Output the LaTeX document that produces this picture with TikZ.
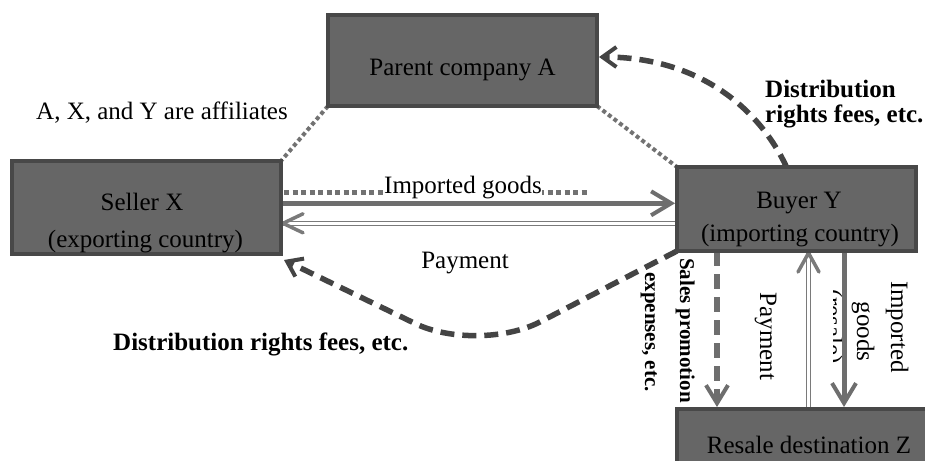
\documentclass[tikz,border=0pt]{standalone}
\usepackage{fontspec}
\setmainfont{Liberation Serif}
\usetikzlibrary{arrows.meta,calc}
\definecolor{boxfill}{HTML}{666666}
\definecolor{boxdraw}{HTML}{484848}
\definecolor{arrgray}{HTML}{6E6E6E}
\definecolor{paygray}{HTML}{7A7A7A}
\definecolor{dotgray}{HTML}{727272}
\definecolor{darkdash}{HTML}{444444}
\begin{document}
\begin{tikzpicture}[x=1pt,y=-1pt,
  box/.style={rectangle, draw=boxdraw, fill=boxfill, line width=4pt, inner sep=0pt, outer sep=0pt},
  lbl/.style={font=\fontsize{25}{30}\selectfont, inner sep=0pt, text=black},
  blbl/.style={font=\fontsize{25}{30}\selectfont\bfseries, inner sep=0pt, text=black},
  sblbl/.style={font=\fontsize{21}{25}\selectfont\bfseries, inner sep=0pt, text=black},
  dotline/.style={draw=dotgray, line width=4pt, dash pattern=on 4pt off 3pt},
  hdotline/.style={draw=dotgray, line width=5pt, dash pattern=on 5pt off 3.5pt},
  bigdash/.style={draw=darkdash, line width=5.5pt, dash pattern=on 14pt off 8pt,
    -{Straight Barb[length=14pt, width=20pt, line width=4pt]}},
  solidarrow/.style={draw=arrgray, line width=5pt,
    -{Straight Barb[length=20pt, width=24pt, line width=4pt]}},
  graydash/.style={draw=arrgray, line width=5.5pt, dash pattern=on 15pt off 8pt,
    -{Straight Barb[length=18pt, width=22pt, line width=4pt]}},
  payline/.style={draw=paygray, line width=1.5pt, double=white, double distance=2.5pt},
  paytip/.style={draw=paygray, line width=3.5pt, line cap=round, line join=miter}
]
\useasboundingbox (0,0) rectangle (925,460);
\fill[white] (0,0) rectangle (925,460);
\clip (0,0) rectangle (925,460);

% boxes (defined first for anchors, drawn on top later)
\path node[box, minimum width=269pt, minimum height=91pt] (parentA) at (462.5,60.5) {};
\path node[box, minimum width=269pt, minimum height=93pt] (sellerX) at (146.5,207.5) {};
\path node[box, minimum width=239pt, minimum height=84pt] (buyerY) at (796.5,209) {};
\path node[box, minimum width=263pt, minimum height=71pt] (resaleZ) at (808.5,444.5) {};

% affiliate dotted lines
\draw[dotline] (parentA.south west) -- (sellerX.north east);
\draw[dotline] (parentA.south east) -- (buyerY.north west);

% horizontal dotted line with label
\coordinate (dotS) at ($(sellerX.east)+(3,-15.5)$);
\coordinate (dotE) at (588,192);
\draw[hdotline] (dotS) -- (dotE);
\node[lbl, anchor=base, fill=white] (tIG) at (463,193) {Imported goods};

% imported goods arrow X -> Y
\coordinate (ig1) at ($(sellerX.east)+(0,-4.2)$);
\draw[solidarrow] (ig1) -- ($(buyerY.west |- ig1)+(-2,0)$);

% payment Y -> X (double line)
\coordinate (pm1) at ($(buyerY.west)+(0,14.3)$);
\coordinate (pm2) at ($(sellerX.east |- pm1)+(2,0)$);
\draw[payline] (pm1) -- (pm2);
\draw[paytip] ($(pm2)+(20,-9.5)$) -- (pm2) -- ($(pm2)+(20,9.5)$);
\node[lbl, anchor=base] (tPay) at (465,268) {Payment};

% distribution rights fees Y -> A
\draw[bigdash] ($(buyerY.north)+(-10,0)$) .. controls (760,110) and (700,57) .. ($(parentA.east)+(2,-3.5)$);
% distribution rights fees Y -> X
\draw[bigdash, rounded corners=70pt] (buyerY.south west) -- (478,354) -- ($(sellerX.south east)+(3,6)$);

% vertical labels
\begin{scope}
\clip (833,280) rectangle (860,375);
\node[lbl, rotate=-90, anchor=base] (tResV) at (825,326.5) {(resale)};
\end{scope}
\node[lbl, rotate=-90, anchor=base] (tPayV) at (760,336.5) {Payment};
\node[lbl, rotate=-90, anchor=base] (tImpV) at (891,327) {Imported};
\node[lbl, rotate=-90, anchor=base] (tGoodsV) at (857,331.5) {goods};
\node[sblbl, rotate=-90, anchor=base] (tSales) at (680,330.5) {Sales promotion};
\node[sblbl, rotate=-90, anchor=base] (tExp) at (645,332) {expenses, etc.};

% vertical connectors Y <-> Z
\draw[graydash] ($(buyerY.south)+(-79.5,0)$) -- ($(resaleZ.north)+(-91.5,-2)$);
\draw[payline] (resaleZ.north) -- (resaleZ.north |- buyerY.south);
\coordinate (pvt) at ($(resaleZ.north |- buyerY.south)+(0,2)$);
\draw[paytip] ($(pvt)+(-10.5,19)$) -- (pvt) -- ($(pvt)+(10.5,19)$);
\draw[solidarrow] ($(buyerY.south)+(47.5,0)$) -- ($(resaleZ.north)+(35.5,-2)$);

% boxes drawn on top
\node[box, minimum width=269pt, minimum height=91pt] at (parentA.center) {};
\node[box, minimum width=269pt, minimum height=93pt] at (sellerX.center) {};
\node[box, minimum width=239pt, minimum height=84pt] at (buyerY.center) {};
\node[box, minimum width=263pt, minimum height=71pt] at (resaleZ.center) {};

% box texts
\node[lbl, anchor=base] (tA) at (462.5,75) {Parent company A};
\node[lbl, anchor=base] (tX1) at (142,210) {Seller X};
\node[lbl, anchor=base] (tX2) at (145.5,247) {(exporting country)};
\node[lbl, anchor=base] (tY1) at (799,208) {Buyer Y};
\node[lbl, anchor=base] (tY2) at (800,241) {(importing country)};
\node[lbl, anchor=base] (tZ) at (809,453) {Resale destination Z};

% free labels
\node[lbl, anchor=base] (tAff) at (162,119) {A, X, and Y are affiliates};
\node[blbl, anchor=base west] (tDR1) at (765,97) {Distribution};
\node[blbl, anchor=base west] (tDR2) at (765,122) {rights fees, etc.};
\node[blbl, anchor=base west] (tDR3) at (113,350) {Distribution rights fees, etc.};
\end{tikzpicture}
\end{document}
